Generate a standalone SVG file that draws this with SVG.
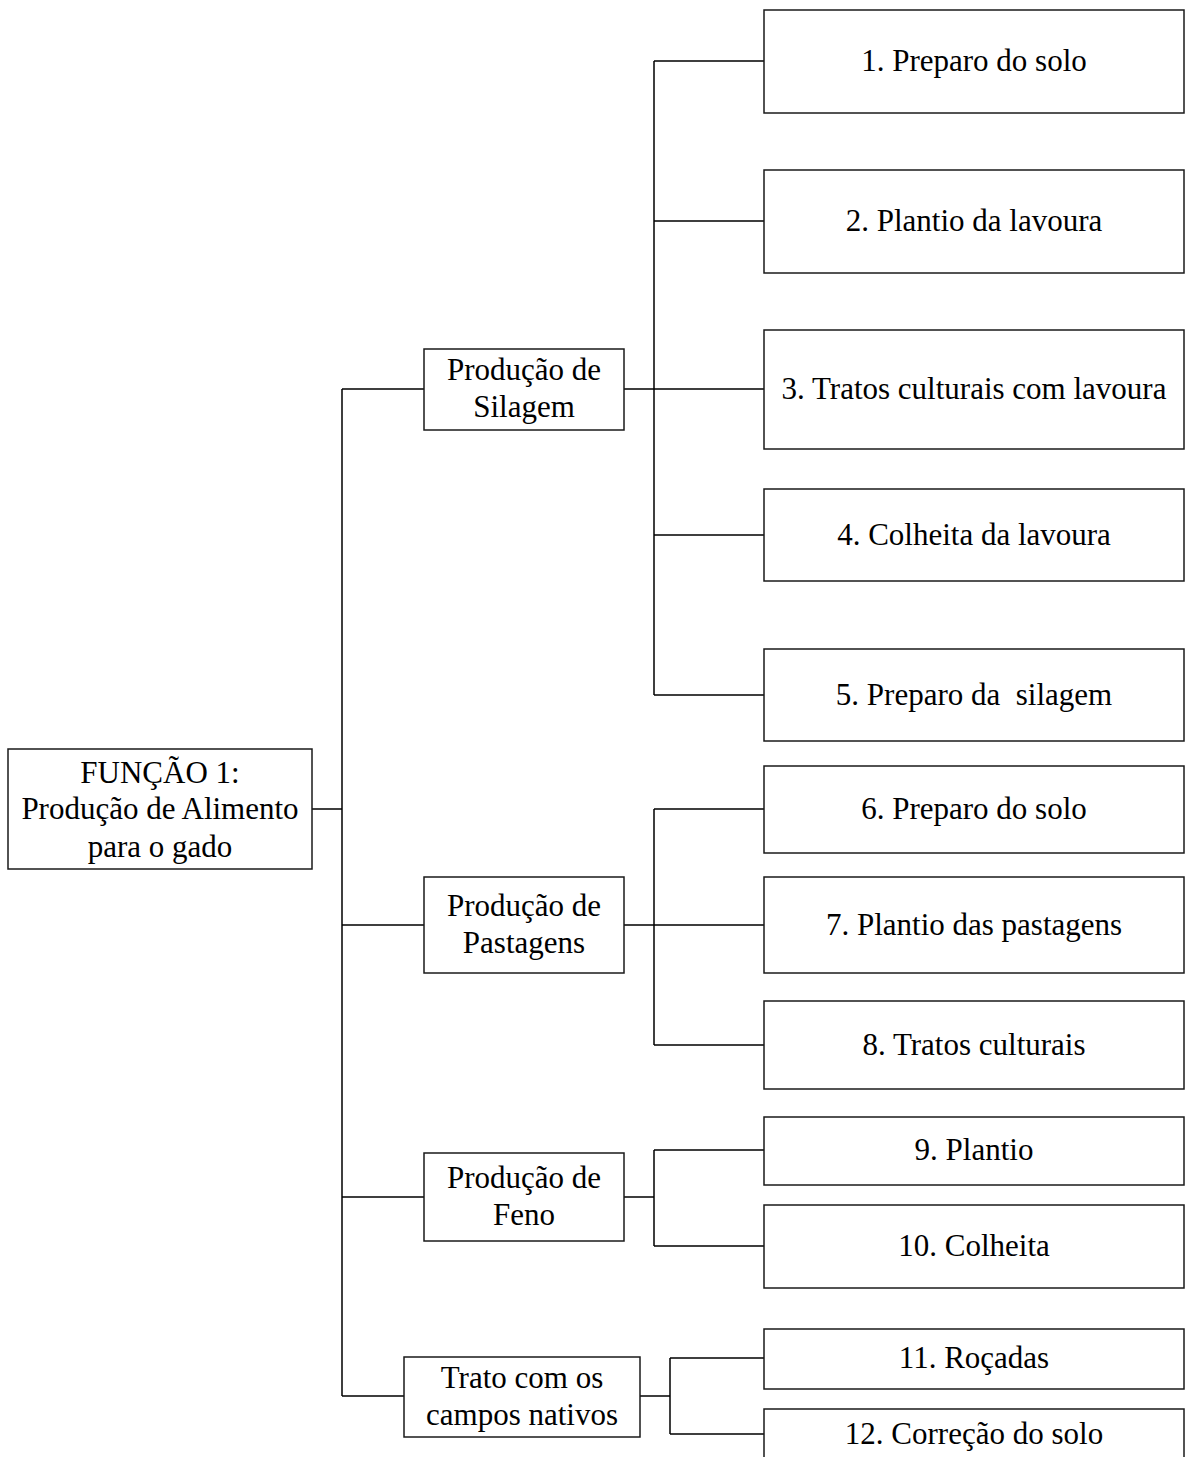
<svg xmlns="http://www.w3.org/2000/svg" width="1187" height="1457" viewBox="0 0 1187 1457">
<style>
.box{fill:#fff;stroke:#1a1a1a;stroke-width:1.5}
.ln{fill:none;stroke:#000;stroke-width:1.5}
text{font-family:"Liberation Serif","Times New Roman",serif;font-size:31px;fill:#000;text-anchor:middle}
</style>
<rect width="1187" height="1457" fill="#fff"/>
<g id="connectors">
<path class="ln" d="M312,809H342M342,389V1396M342,389H424M342,925H424M342,1197H424M342,1396H404"/>
<path class="ln" d="M624,389H654M654,61V695M654,61H764M654,221H764M654,389H764M654,535H764M654,695H764"/>
<path class="ln" d="M624,925H654M654,809V1045M654,809H764M654,925H764M654,1045H764"/>
<path class="ln" d="M624,1197H654M654,1150V1246M654,1150H764M654,1246H764"/>
<path class="ln" d="M640,1396H670M670,1358V1434M670,1358H764M670,1434H764"/>
</g>
<g id="root"><rect class="box" x="8" y="749" width="304" height="120"/><text x="160" y="783">FUNÇÃO 1:</text><text x="160" y="819">Produção de Alimento</text><text x="160" y="857">para o gado</text></g>
<g id="silagem"><rect class="box" x="424" y="349" width="200" height="81"/><text x="524" y="380">Produção de</text><text x="524" y="417">Silagem</text></g>
<g id="pastagens"><rect class="box" x="424" y="877" width="200" height="96"/><text x="524" y="916">Produção de</text><text x="524" y="953">Pastagens</text></g>
<g id="feno"><rect class="box" x="424" y="1153" width="200" height="88"/><text x="524" y="1188">Produção de</text><text x="524" y="1225">Feno</text></g>
<g id="campos"><rect class="box" x="404" y="1357" width="236" height="80"/><text x="522" y="1388">Trato com os</text><text x="522" y="1425">campos nativos</text></g>
<g id="n1"><rect class="box" x="764" y="10" width="420" height="103"/><text x="974" y="71">1. Preparo do solo</text></g>
<g id="n2"><rect class="box" x="764" y="170" width="420" height="103"/><text x="974" y="231">2. Plantio da lavoura</text></g>
<g id="n3"><rect class="box" x="764" y="330" width="420" height="119"/><text x="974" y="399">3. Tratos culturais com lavoura</text></g>
<g id="n4"><rect class="box" x="764" y="489" width="420" height="92"/><text x="974" y="545">4. Colheita da lavoura</text></g>
<g id="n5"><rect class="box" x="764" y="649" width="420" height="92"/><text x="974" y="705" xml:space="preserve">5. Preparo da  silagem</text></g>
<g id="n6"><rect class="box" x="764" y="766" width="420" height="87"/><text x="974" y="819">6. Preparo do solo</text></g>
<g id="n7"><rect class="box" x="764" y="877" width="420" height="96"/><text x="974" y="935">7. Plantio das pastagens</text></g>
<g id="n8"><rect class="box" x="764" y="1001" width="420" height="88"/><text x="974" y="1055">8. Tratos culturais</text></g>
<g id="n9"><rect class="box" x="764" y="1117" width="420" height="68"/><text x="974" y="1160">9. Plantio</text></g>
<g id="n10"><rect class="box" x="764" y="1205" width="420" height="83"/><text x="974" y="1256">10. Colheita</text></g>
<g id="n11"><rect class="box" x="764" y="1329" width="420" height="60"/><text x="974" y="1368">11. Roçadas</text></g>
<g id="n12"><rect class="box" x="764" y="1409" width="420" height="60"/><text x="974" y="1444">12. Correção do solo</text></g>
</svg>
